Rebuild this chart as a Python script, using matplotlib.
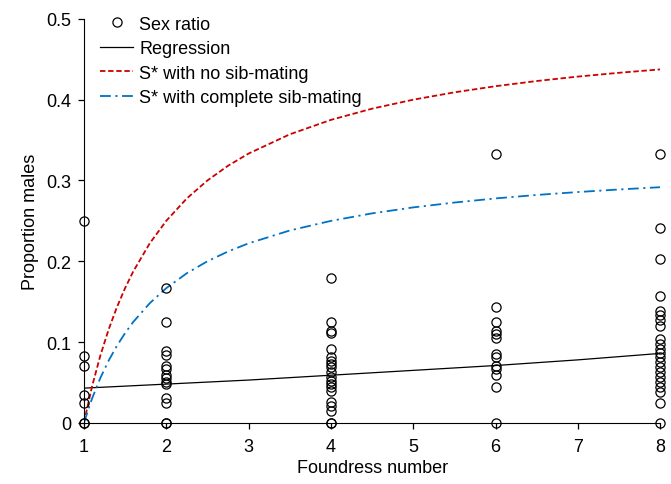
import numpy as np
import matplotlib
matplotlib.use('Agg')
import matplotlib.pyplot as plt
from matplotlib.ticker import FuncFormatter

plt.rcParams['font.family'] = ['Liberation Sans', 'DejaVu Sans']

n1 = [0.25, 0.083, 0.071, 0.034, 0.025, 0, 0]
n2 = [0.167, 0.125, 0.0895, 0.084, 0.071, 0.067, 0.059, 0.056, 0.05, 0.048,
      0.031, 0.025, 0, 0]
n4 = [0.179, 0.125, 0.114, 0.111, 0.091, 0.081, 0.077, 0.073, 0.069, 0.063,
      0.057, 0.052, 0.048, 0.044, 0.040, 0.026, 0.021, 0.015, 0, 0]
n6 = [0.333, 0.143, 0.125, 0.114, 0.110, 0.105, 0.085, 0.081, 0.071, 0.067,
      0.059, 0.045, 0]
n8 = [0.333, 0.241, 0.203, 0.157, 0.138, 0.133, 0.127, 0.120, 0.104, 0.098,
      0.092, 0.087, 0.081, 0.075, 0.069, 0.063, 0.057, 0.050, 0.044, 0.038,
      0.024, 0]

# regression line
reg_n = [1, 2, 3, 4, 5, 6, 7, 8]
reg_y = [0.043, 0.048, 0.053, 0.059, 0.065, 0.071, 0.078, 0.086]

# predicted S* curves
curve_n = [1, 1.1, 1.2, 1.3, 1.4, 1.5, 1.6, 1.8, 2, 2.25, 2.5, 2.75, 3, 3.5,
           4, 4.5, 5, 5.5, 6, 6.5, 7, 7.5, 8]
s_nosib = [0, 0.0455, 0.0833, 0.1154, 0.1429, 0.1667, 0.1875, 0.2222, 0.25,
           0.2778, 0.3, 0.3182, 0.3333, 0.3571, 0.375, 0.3889, 0.4, 0.4091,
           0.4167, 0.4231, 0.4286, 0.4333, 0.4375]
s_sib = [0, 0.0303, 0.0556, 0.0769, 0.0952, 0.1111, 0.125, 0.1481, 0.1667,
         0.1852, 0.2, 0.2121, 0.2222, 0.2381, 0.25, 0.2593, 0.2667, 0.2727,
         0.2778, 0.2821, 0.2857, 0.2889, 0.2917]

fig = plt.figure(figsize=(6.71, 4.85), dpi=100)
ax = fig.add_axes([0.125, 0.126, 0.859, 0.833])

xs, ys = [], []
for n, vals in zip([1, 2, 4, 6, 8], [n1, n2, n4, n6, n8]):
    xs += [n] * len(vals)
    ys += vals

ax.plot(reg_n, reg_y, color='black', lw=0.9, label='Regression')
ax.plot(curve_n, s_nosib, color='#cc0000', lw=1.3, ls=(0, (3, 1.5)),
        label='S* with no sib-mating')
ax.plot(curve_n, s_sib, color='#0072c6', lw=1.3, ls=(0, (6, 2.5, 1.2, 2.5)),
        label='S* with complete sib-mating')
ax.plot(xs, ys, 'o', mfc='none', mec='black', ms=6.6, mew=0.9, clip_on=False,
        label='Sex ratio', zorder=5)

ax.set_xlim(1, 8)
ax.set_ylim(0, 0.5)
ax.set_xticks(range(1, 9))
ax.set_yticks([0, 0.1, 0.2, 0.3, 0.4, 0.5])
ax.yaxis.set_major_formatter(FuncFormatter(lambda v, p: '%g' % v))
ax.tick_params(labelsize=13, length=4, width=0.9)
ax.tick_params(axis='x', pad=7)
ax.tick_params(axis='y', pad=5)
ax.spines['top'].set_visible(False)
ax.spines['right'].set_visible(False)
ax.set_xlabel('Foundress number', fontsize=13, labelpad=3)
ax.set_ylabel('Proportion males', fontsize=13, labelpad=5)

h, l = ax.get_legend_handles_labels()
order = [3, 0, 1, 2]
ax.legend([h[i] for i in order], [l[i] for i in order], loc='upper left',
          bbox_to_anchor=(0.01, 1.035), frameon=False, fontsize=13,
          handlelength=1.8, handletextpad=0.35, labelspacing=0.42,
          borderaxespad=0.2)

fig.savefig('out.png', dpi=100)
